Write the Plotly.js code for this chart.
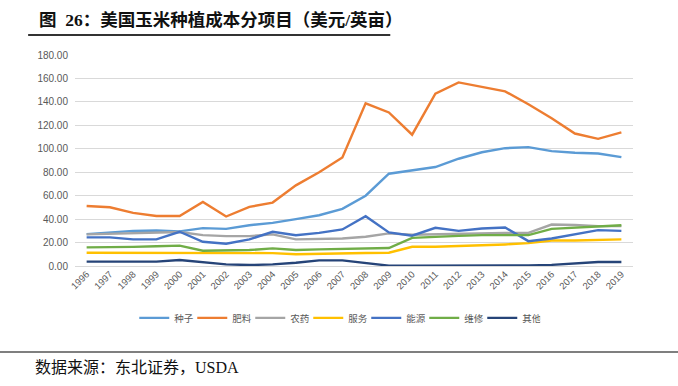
<!DOCTYPE html>
<html><head><meta charset="utf-8">
<script src="https://cdn.plot.ly/plotly-3.0.1.min.js"></script>
<style>html,body{margin:0;padding:0;background:#fff}#c{width:678px;height:386px}</style>
</head><body><div id="c"></div>
<script>
const years = ['1996','1997','1998','1999','2000','2001','2002','2003','2004','2005','2006','2007','2008','2009','2010','2011','2012','2013','2014','2015','2016','2017','2018','2019'];
const seed       = [27.2,28.6,30.0,30.3,29.5,32.3,31.7,34.8,36.8,40.0,43.3,48.7,60.0,78.7,81.5,84.4,91.5,97.0,100.5,101.4,98.0,96.6,96.0,92.9];
const fertilizer = [51.2,50.1,45.3,42.7,42.7,54.6,42.2,50.4,54.1,68.8,79.9,92.6,138.8,131.0,112.0,147.0,156.6,153.0,149.0,138.0,126.0,113.0,108.5,114.0];
const pesticide  = [27.0,27.5,28.0,29.0,29.0,26.3,25.5,25.5,27.0,22.7,23.0,23.5,25.0,27.8,26.6,27.0,27.8,28.3,28.3,28.3,35.4,35.0,34.0,34.0];
const services   = [11.3,11.3,11.3,11.3,11.3,11.0,11.0,11.0,11.0,10.0,10.5,11.0,11.1,11.3,16.4,16.4,17.0,17.5,18.4,19.5,21.8,21.8,22.1,22.7];
const energy     = [24.4,24.4,22.7,22.7,29.2,20.7,19.0,22.7,29.2,26.3,28.3,31.2,42.5,28.6,25.8,32.6,30.0,32.0,32.8,21.2,23.5,26.9,30.6,30.0];
const repairs    = [15.9,15.9,16.3,16.8,17.4,13.0,13.6,13.6,15.0,13.6,14.2,14.7,15.2,15.3,24.0,25.0,25.7,26.3,26.3,26.3,31.7,32.8,34.0,34.8];
const other      = [3.7,3.7,3.7,3.7,5.1,3.1,1.4,0.8,1.4,2.8,4.8,4.8,2.3,0.3,0.3,0.3,0.5,0.3,0.3,0.5,1.0,2.0,3.4,3.4];
const names = ['种子','肥料','农药','服务','能源','维修','其他'];
const series = [seed, fertilizer, pesticide, services, energy, repairs, other];
const colors = ['#5B9BD5','#ED7D31','#A5A5A5','#FFC000','#4472C4','#70AD47','#264478'];
const titleText = '图  26：美国玉米种植成本分项目（美元/英亩）';
const sourceText = '数据来源：东北证券，USDA';

const traces = series.map((s,i)=>({
  type:'scatter', mode:'lines', x:years, y:s, name:names[i],
  line:{color:colors[i], width:2.4}
}));

const F = '"Liberation Sans", Arial, "Noto Sans CJK SC", sans-serif';
const layout = {
  width:678, height:386,
  margin:{l:75, r:45, t:55, b:120},
  paper_bgcolor:'#fff', plot_bgcolor:'#fff',
  showlegend:true,
  legend:{orientation:'h', x:0.47, xanchor:'center', y:-0.246, yanchor:'middle',
    font:{family:F, size:9.5, color:'#595959'}, itemwidth:30, entrywidth:13, entrywidthmode:'pixels', tracegroupgap:0},
  xaxis:{type:'category', range:[-0.5,23.5], tickangle:-45, showgrid:false, zeroline:false,
    showline:false, ticks:'', tickfont:{family:F, size:9.5, color:'#595959'}, fixedrange:true},
  yaxis:{range:[0,180], dtick:20, tickformat:'.2f', gridcolor:'#D9D9D9', gridwidth:1,
    zeroline:true, zerolinecolor:'#D9D9D9', zerolinewidth:1, ticks:'', showline:false, ticklabelstandoff:6,
    tickfont:{family:F, size:10, color:'#595959'}, fixedrange:true},
  shapes:[
    {type:'line', xref:'paper', yref:'paper', x0:-0.084, x1:0.565, y0:1.095, y1:1.095, line:{color:'#333', width:2}},
    {type:'line', xref:'paper', yref:'paper', x0:-0.14, x1:1.09, y0:-0.408, y1:-0.408, line:{color:'#555', width:1.5}}
  ],
  annotations:[
    {xref:'paper', yref:'paper', x:-0.068, y:1.166, xanchor:'left', yanchor:'middle', showarrow:false,
      text:'<b>'+titleText+'</b>', font:{family:'"Liberation Serif", "Noto Sans CJK SC", serif', size:17.5, color:'#111'}},
    {xref:'paper', yref:'paper', x:-0.075, y:-0.483, xanchor:'left', yanchor:'middle', showarrow:false,
      text:sourceText, font:{family:'"Liberation Serif", "Noto Sans CJK SC", serif', size:16, color:'#111'}}
  ]
};
Plotly.newPlot('c', traces, layout, {displayModeBar:false, staticPlot:true});
</script></body></html>
